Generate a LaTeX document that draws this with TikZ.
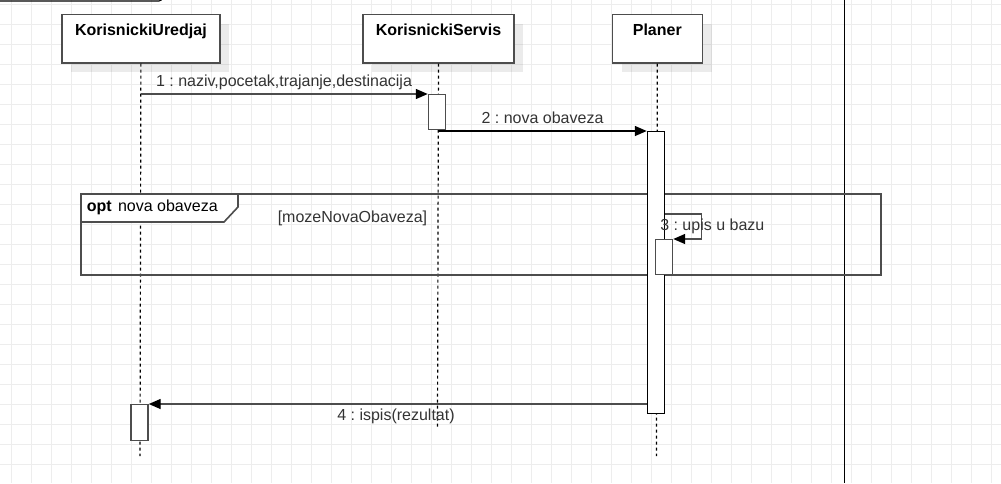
\documentclass[tikz,border=0pt]{standalone}
\usepackage{fontspec}
\setmainfont{Liberation Sans}
\usetikzlibrary{arrows.meta,shadows}
\definecolor{gridgray}{HTML}{EDEDED}
\definecolor{linegray}{HTML}{4D4D4D}
\definecolor{textgray}{HTML}{333333}
\frenchspacing

\begin{document}
\begin{tikzpicture}[x=0.75pt, y=-0.75pt,
    font=\fontsize{12}{14}\selectfont,
    objbox/.style={draw=linegray, line width=1.2pt, fill=white, anchor=north west,
        inner xsep=0pt, inner ysep=0pt, text height=15.75pt, text depth=20.6pt,
        font=\fontsize{12}{14}\selectfont\bfseries,
        drop shadow={shadow xshift=7pt, shadow yshift=-7pt, fill=black, opacity=0.08}},
    actbox/.style={draw=linegray, line width=1.1pt, fill=white, anchor=north,
        minimum width=12.75pt, inner sep=0pt},
    lifeline/.style={black, line width=0.9pt, dash pattern=on 2.25pt off 2.25pt},
    msg/.style={linegray, line width=1.1pt, -{Triangle[length=9pt, width=7.5pt, color=black]}},
    msgtext/.style={text=textgray, inner sep=0pt, anchor=base},
    frame/.style={draw=linegray, line width=1.2pt}]
    \useasboundingbox (0,0) rectangle (1001,483);
    \foreach \gx in {0,...,49} {
        \draw[gridgray, line width=0.75pt] (11.7+20*\gx, 0) -- (11.7+20*\gx, 483);
    };
    \foreach \gy in {0,...,23} {
        \draw[gridgray, line width=0.75pt] (0, 4+20*\gy) -- (1001, 4+20*\gy);
    };
    \draw[black, line width=0.8pt, rounded corners=2.25pt] (-10,-10) rectangle (162,1);
    \draw[black, line width=1pt] (844.5,0) -- (844.5,483);

    \node[objbox, minimum width=118.2pt] (ured) at (61.3,13.5) {KorisnickiUredjaj};
    \node[objbox, minimum width=113.5pt] (serv) at (362,13.5) {KorisnickiServis};
    \node[objbox, minimum width=67.5pt] (plan) at (611.5,13.5) {Planer};

    \coordinate (uredEnd) at (140,456);
    \coordinate (servEnd) at (437.5,428);
    \coordinate (planEnd) at (656.5,456);
    \draw[lifeline] (ured.south) -- (uredEnd);
    \draw[lifeline] (serv.south) -- (servEnd);
    \draw[lifeline] (plan.south) -- (planEnd);

    \draw[frame] (81,194) rectangle (881,275);
    \draw[frame, fill=white] (81,194) -- (238,194) -- (238,207) -- (224,222) -- (81,222) -- cycle;
    \node[anchor=base west, inner sep=0pt] (optlab) at (86.5,211.7) {\textbf{opt}\hspace{1.5pt} nova obaveza};
    \node[msgtext] (guard) at (352.5,222) {[mozeNovaObaveza]};

    \node[actbox, minimum height=26.25pt] (actServ) at (437,94) {};
    \node[actbox, draw=black, minimum height=211.5pt] (actPlan) at (656,131) {};
    \node[actbox, minimum height=26pt] (actSelf) at (664,239) {};
    \node[actbox, minimum height=27pt] (actUred) at (139.5,404) {};

    \draw[msg] (ured.south |- actServ.north) -- (actServ.north west);
    \node[msgtext] (m1) at (284,86) {1 : naziv,pocetak,trajanje,destinacija};

    \draw[msg, black] (serv.south |- actPlan.north) -- (actPlan.north west);
    \node[msgtext] (m2) at (542.5,123) {2 : nova obaveza};

    \draw[msg] (actPlan.east |- 0,214) -- ++(36.5,0) |- (actSelf.north east);
    \node[msgtext, anchor=base west] (m3) at (660,230.5) {3 : upis u bazu};

    \draw[msg] (actPlan.west |- actUred.north) -- (actUred.north east);
    \node[msgtext] (m4) at (396,420) {4 : ispis(rezultat)};
\end{tikzpicture}
\end{document}
